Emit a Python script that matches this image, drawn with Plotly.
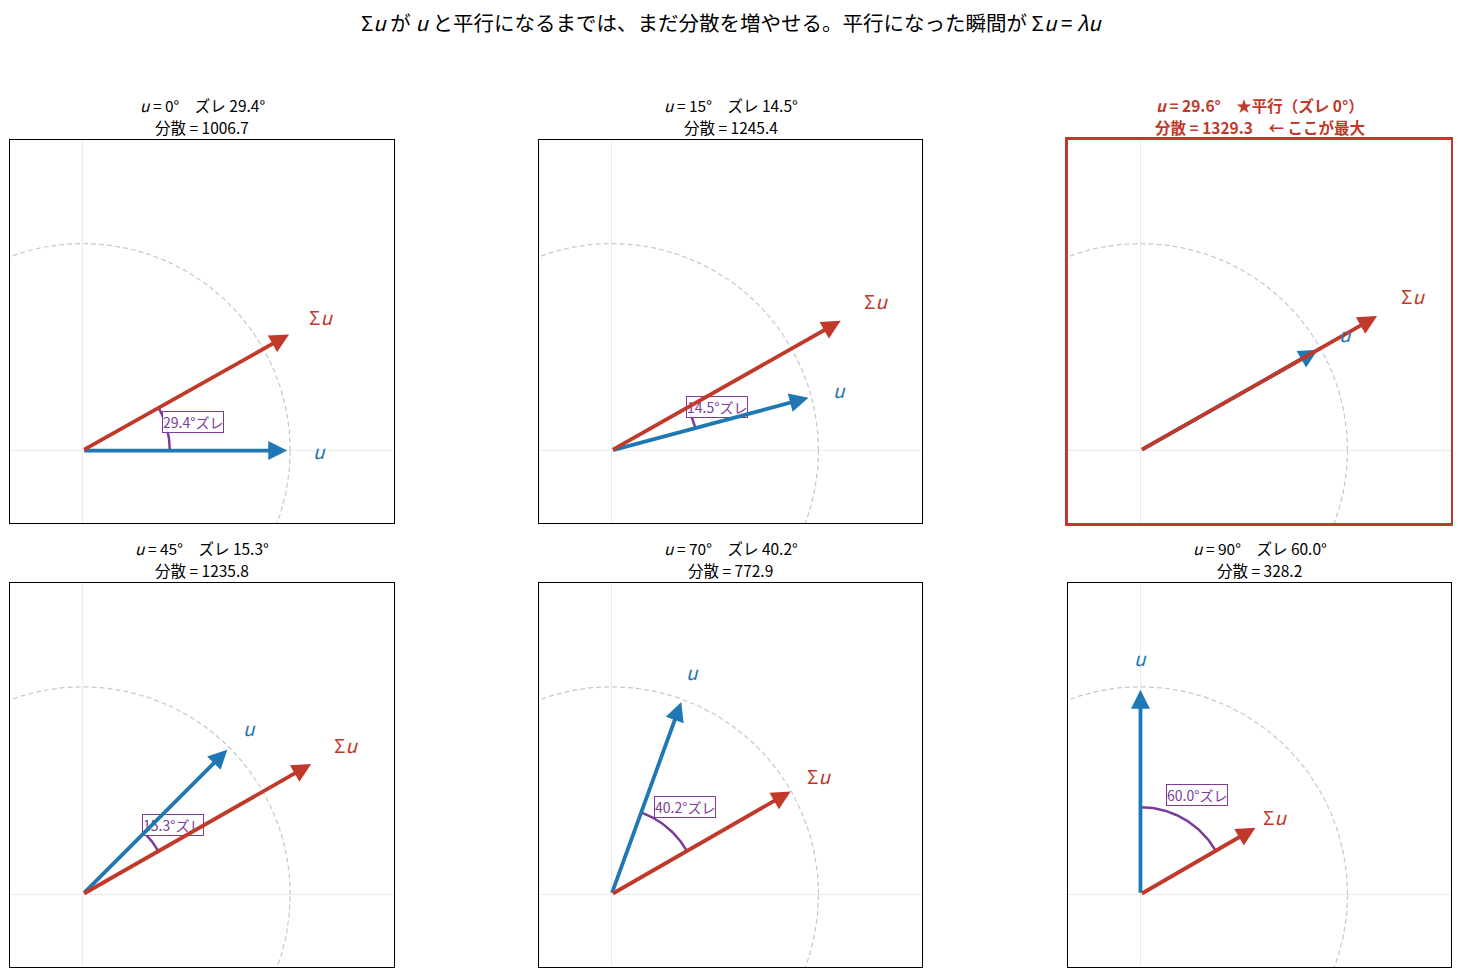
import numpy as np
import plotly.graph_objects as go

# 単位ベクトル u の角度と、その時の Σu（/1000 で表示）
u_deg = [0, 15, 29.6, 45, 70, 90]
zure_deg = [29.4, 14.5, 0.0, 15.3, 40.2, 60.0]
variance = [1006.7, 1245.4, 1329.3, 1235.8, 772.9, 328.2]
sigma_u_deg = [29.4, 29.5, 29.6, 29.7, 29.8, 30.0]
sigma_u_len = [1.156, 1.287, 1.329, 1.282, 1.012, 0.656]
best = 2

BLUE = '#1f77b4'
RED = '#c0392b'
PURPLE = '#7d3c98'
FONT = 'Noto Sans CJK JP'

# ページの body 余白 (8px) を差し引いた大きさ
OFF = 8
W, H = 1461 - 2 * OFF, 977 - 2 * OFF
col_px = [(10, 394), (539, 922), (1068, 1451)]
row_px = [(140, 523), (583, 967)]
rng = [-0.35, 1.5]


def px(X):
    return (X - OFF) / W


def py(Y):
    return 1 - (Y - OFF) / H


fig = go.Figure()
annotations = []

for i in range(6):
    r, c = divmod(i, 3)
    n = '' if i == 0 else str(i + 1)
    xa, ya = 'x' + n, 'y' + n
    x0, x1 = col_px[c]
    y0, y1 = row_px[r]
    hi = i == best
    axis_style = dict(range=rng, showgrid=False, showticklabels=False, ticks='',
                      zeroline=True, zerolinecolor='#ebebeb', zerolinewidth=1,
                      showline=True, mirror=True,
                      linecolor=RED if hi else 'black', linewidth=3 if hi else 1,
                      fixedrange=True)
    fig.update_layout(**{
        'xaxis' + n: dict(domain=[px(x0), min(px(x1), 1)], anchor=ya, **axis_style),
        'yaxis' + n: dict(domain=[py(y1), py(y0)], anchor=xa, **axis_style),
    })

    # 単位円（破線）
    t = np.linspace(0, 2 * np.pi, 361)
    fig.add_trace(go.Scatter(x=np.cos(t), y=np.sin(t), xaxis=xa, yaxis=ya, mode='lines',
                             line=dict(color='#c8c8c8', width=1.2, dash='5px,3px'),
                             hoverinfo='skip', showlegend=False))

    ua = np.radians(u_deg[i])
    sa = np.radians(sigma_u_deg[i])
    ux, uy = np.cos(ua), np.sin(ua)
    sx, sy = sigma_u_len[i] * np.cos(sa), sigma_u_len[i] * np.sin(sa)

    # ズレの弧
    if zure_deg[i] > 0.5:
        a = np.linspace(ua, sa, 60)
        fig.add_trace(go.Scatter(x=0.42 * np.cos(a), y=0.42 * np.sin(a), xaxis=xa, yaxis=ya,
                                 mode='lines', line=dict(color=PURPLE, width=2.5),
                                 hoverinfo='skip', showlegend=False))
        mid = (ua + sa) / 2
        annotations.append(dict(x=0.55 * np.cos(mid), y=0.55 * np.sin(mid), xref=xa, yref=ya,
                                text=f'{zure_deg[i]:.1f}°ズレ', showarrow=False,
                                font=dict(family=FONT, size=14, color=PURPLE),
                                bgcolor='rgba(255,255,255,0.9)', bordercolor=PURPLE,
                                borderwidth=1, borderpad=0))

    # u と Σu の矢印
    for (vx, vy), col in [((ux, uy), BLUE), ((sx, sy), RED)]:
        annotations.append(dict(x=vx, y=vy, ax=0, ay=0, xref=xa, yref=ya, axref=xa, ayref=ya,
                                text='', showarrow=True, arrowhead=2, arrowsize=1.0,
                                arrowwidth=3.8, arrowcolor=col, standoff=3))
    annotations.append(dict(x=1.14 * ux, y=1.14 * uy, xref=xa, yref=ya, text='<i>u</i>',
                            showarrow=False, font=dict(family=FONT, size=19, color=BLUE)))
    annotations.append(dict(x=1.14 * sx, y=1.14 * sy, xref=xa, yref=ya, text='Σ<i>u</i>',
                            showarrow=False, font=dict(family=FONT, size=19, color=RED)))

    # パネルの見出し（2 行）
    if hi:
        lines = [f'<b><i>u</i> = {u_deg[i]:.1f}°　★平行（ズレ 0°）</b>',
                 f'<b>分散 = {variance[i]:.1f}　← ここが最大</b>']
        tcol = RED
    else:
        lines = [f'<i>u</i> = {u_deg[i]:.0f}°　ズレ {zure_deg[i]:.1f}°',
                 f'分散 = {variance[i]:.1f}']
        tcol = 'black'
    for k, line in enumerate(lines):
        annotations.append(dict(x=px((x0 + x1) / 2), y=py(y0 - 35.5 + 22.5 * k),
                                xref='paper', yref='paper', text=line, showarrow=False,
                                xanchor='center', yanchor='middle', borderpad=0,
                                font=dict(family=FONT, size=15.5, color=tcol)))

annotations.append(dict(x=px(731), y=py(22), xref='paper', yref='paper',
                        text='Σ<i>u</i> が <i>u</i> と平行になるまでは、まだ分散を増やせる。'
                             '平行になった瞬間が Σ<i>u</i> = <i>λu</i>',
                        showarrow=False, xanchor='center', yanchor='middle',
                        font=dict(family=FONT, size=20.5, color='black')))

fig.update_layout(width=W, height=H, margin=dict(l=0, r=0, t=0, b=0),
                  paper_bgcolor='white', plot_bgcolor='white',
                  annotations=annotations, showlegend=False,
                  font=dict(family=FONT))

fig.write_html('out.html', config={'displayModeBar': False})
